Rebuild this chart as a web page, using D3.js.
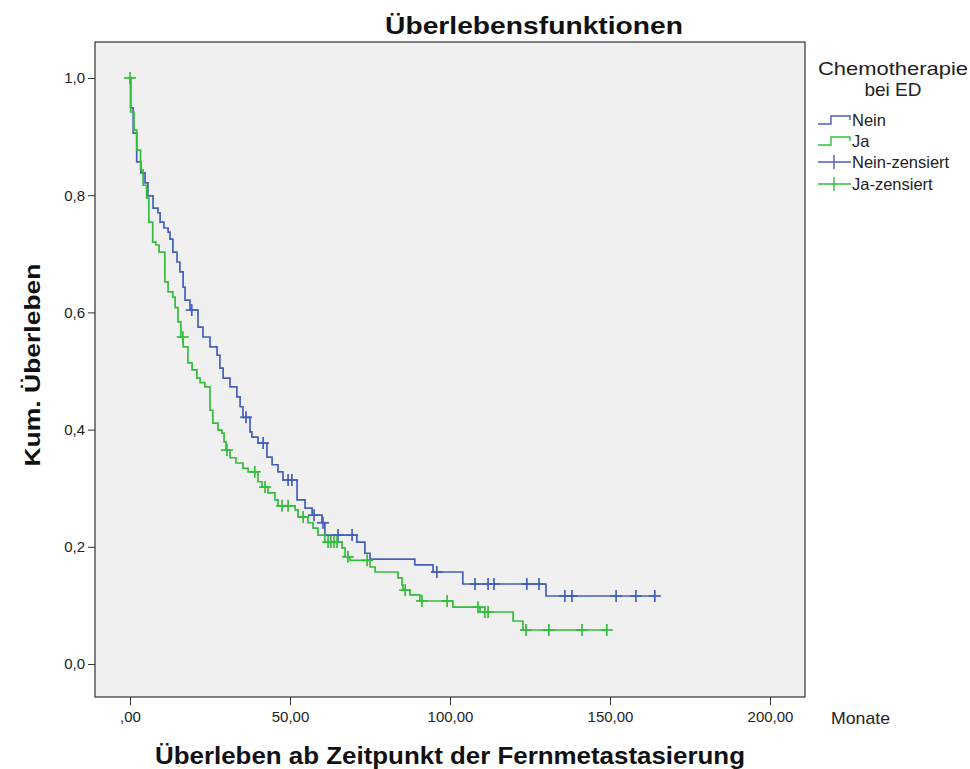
<!DOCTYPE html>
<html><head><meta charset="utf-8">
<script src="https://cdn.jsdelivr.net/npm/d3@7"></script>
<style>
body{margin:0;background:#fff;}
svg{display:block;}
text{font-family:"Liberation Sans",Arial,sans-serif;}
</style></head>
<body>
<script>
// ---- Data ----
const groups = ["Nein", "Ja"];
const neinEvents = [[0.2,0.949],[1.0,0.906],[2.1,0.857],[3.4,0.838],[4.7,0.821],[5.6,0.799],[7.2,0.778],[8.75,0.770],[9.4,0.754],[10.6,0.744],[11.9,0.737],[12.5,0.725],[13.4,0.703],[14.7,0.686],[15.6,0.669],[16.6,0.643],[17.2,0.621],[18.75,0.604],[21.25,0.575],[22.8,0.558],[25.0,0.541],[27.2,0.527],[28.1,0.505],[29.1,0.488],[31.25,0.473],[33.4,0.456],[34.4,0.439],[35.3,0.421],[37.5,0.396],[38.1,0.387],[40,0.377],[42.8,0.353],[44.4,0.340],[46.25,0.328],[47.8,0.314],[52.2,0.280],[54.7,0.266],[56.9,0.254],[60,0.241],[60.9,0.220],[70.9,0.208],[73.4,0.189],[75,0.179],[89,0.169],[94.7,0.157],[104,0.1365],[130,0.116]];
const neinCensored = [19.3,36.25,41.6,49.4,50.6,57.5,60.3,65,69.4,95.9,107.8,111.9,113.75,124,127.8,135.9,138.1,151.9,158.1,164];
const neinEnd = 164;
const jaEvents = [[0.2,0.942],[1.25,0.911],[2.1,0.877],[3.3,0.843],[4.1,0.817],[5.2,0.795],[5.9,0.754],[7.1,0.720],[8.1,0.715],[9.1,0.703],[10.9,0.652],[11.9,0.635],[13.4,0.626],[14.1,0.608],[15,0.584],[15.9,0.558],[16.6,0.541],[18.1,0.514],[19.4,0.502],[20.9,0.488],[21.9,0.480],[23.4,0.473],[25,0.433],[25.9,0.411],[27.5,0.399],[28.75,0.394],[29.4,0.379],[30,0.365],[31.25,0.352],[33.1,0.343],[35.3,0.334],[36.9,0.328],[40,0.311],[41.25,0.302],[43.1,0.292],[45.3,0.280],[46.25,0.270],[51.6,0.263],[52.5,0.251],[55.6,0.241],[57.2,0.232],[58.75,0.220],[60.9,0.208],[66.25,0.198],[67.2,0.183],[68.75,0.177],[75,0.1655],[76.6,0.157],[83.75,0.147],[85,0.135],[85.3,0.126],[87.5,0.118],[90.6,0.1075],[100.9,0.097],[109.4,0.0887],[119.7,0.0734],[122.8,0.058]];
const jaCensored = [0,16.5,30.3,39,42.2,47.5,49.4,54.1,61.9,62.8,63.75,64.7,68.1,74.1,86,91.25,99.1,108.75,110.9,111.9,123.75,130.9,141.25,149];
const jaEnd = 149;
const xTicks = [0, 50, 100, 150, 200];
const xTickLabels = [",00", "50,00", "100,00", "150,00", "200,00"];
const yTicks = [0, 0.2, 0.4, 0.6, 0.8, 1.0];
const yTickLabels = ["0,0", "0,2", "0,4", "0,6", "0,8", "1,0"];
const legendLabels = ["Nein", "Ja", "Nein-zensiert", "Ja-zensiert"];
const colors = {Nein: "#4460bc", Ja: "#35bd3c"};

// ---- Layout ----
const W = 970, H = 769;
const frame = {x0: 95, y0: 42, x1: 805, y1: 697};
const x = d3.scaleLinear().domain([0, 200]).range([130, 770]);
const y = d3.scaleLinear().domain([0, 1]).range([664, 78]);

const svg = d3.select("body").append("svg").attr("width", W).attr("height", H);

svg.append("rect").attr("x", frame.x0).attr("y", frame.y0)
  .attr("width", frame.x1 - frame.x0).attr("height", frame.y1 - frame.y0)
  .attr("fill", "#f0f0f0").attr("stroke", "#333").attr("stroke-width", 1.2);

// Axes
const yAxis = d3.axisLeft(y).tickValues(yTicks).tickSize(7).tickPadding(3)
  .tickFormat((d, i) => yTickLabels[i]);
const gy = svg.append("g").attr("transform", `translate(${frame.x0},0)`).call(yAxis);
gy.select(".domain").remove();
gy.selectAll("line").attr("stroke", "#333");
gy.selectAll("text").attr("font-size", 15).attr("fill", "#222")
  .attr("font-family", "Liberation Sans, Arial, sans-serif");

const xAxis = d3.axisBottom(x).tickValues(xTicks).tickSize(8).tickPadding(6)
  .tickFormat((d, i) => xTickLabels[i]);
const gx = svg.append("g").attr("transform", `translate(0,${frame.y1})`).call(xAxis);
gx.select(".domain").remove();
gx.selectAll("line").attr("stroke", "#333");
gx.selectAll("text").attr("font-size", 15).attr("fill", "#222")
  .attr("font-family", "Liberation Sans, Arial, sans-serif");

svg.append("text").attr("x", 831).attr("y", 724).attr("font-size", 17).attr("fill", "#222")
  .attr("textLength", 59).attr("lengthAdjust", "spacingAndGlyphs")
  .text("Monate");

// Titles
svg.append("text").attr("x", 534).attr("y", 34).attr("text-anchor", "middle")
  .attr("font-size", 24).attr("font-weight", "bold").attr("fill", "#111")
  .attr("textLength", 298).attr("lengthAdjust", "spacingAndGlyphs")
  .text("Überlebensfunktionen");
svg.append("text").attr("transform", "translate(40,365) rotate(-90)").attr("text-anchor", "middle")
  .attr("font-size", 22).attr("font-weight", "bold").attr("fill", "#111")
  .attr("textLength", 203).attr("lengthAdjust", "spacingAndGlyphs")
  .text("Kum. Überleben");
svg.append("text").attr("x", 450).attr("y", 764).attr("text-anchor", "middle")
  .attr("font-size", 24).attr("font-weight", "bold").attr("fill", "#111")
  .attr("textLength", 590).attr("lengthAdjust", "spacingAndGlyphs")
  .text("Überleben ab Zeitpunkt der Fernmetastasierung");

// Curves
function stepValue(events, t) {
  let s = 1;
  for (const e of events) { if (e[0] <= t) s = e[1]; }
  return s;
}
const line = d3.line().x(d => x(d[0])).y(d => y(d[1])).curve(d3.curveStepAfter);
const series = [
  {name: "Nein", events: neinEvents, cens: neinCensored, end: neinEnd},
  {name: "Ja", events: jaEvents, cens: jaCensored, end: jaEnd}
];
series.forEach(s => {
  const pts = [[0, 1], ...s.events, [s.end, s.events[s.events.length - 1][1]]];
  svg.append("path").attr("d", line(pts)).attr("fill", "none")
    .attr("stroke", colors[s.name]).attr("stroke-width", 1.7);
  const g = svg.append("g").attr("stroke", colors[s.name]).attr("stroke-width", 1.7);
  s.cens.forEach(t => {
    const cx = x(t), cy = y(stepValue(s.events, t));
    g.append("line").attr("x1", cx).attr("x2", cx).attr("y1", cy - 6).attr("y2", cy + 6);
    g.append("line").attr("x1", cx - 6).attr("x2", cx + 6).attr("y1", cy).attr("y2", cy);
  });
});

// Legend
svg.append("text").attr("x", 893).attr("y", 75).attr("text-anchor", "middle")
  .attr("font-size", 19).attr("fill", "#222")
  .attr("textLength", 150).attr("lengthAdjust", "spacingAndGlyphs").text("Chemotherapie");
svg.append("text").attr("x", 893).attr("y", 96).attr("text-anchor", "middle")
  .attr("font-size", 19).attr("fill", "#222").text("bei ED");
const legY = [120, 141, 162, 184];
legendLabels.forEach((lab, i) => {
  const cy = legY[i];
  const col = colors[i % 2 === 0 ? "Nein" : "Ja"];
  const g = svg.append("g").attr("stroke", col).attr("stroke-width", 1.4).attr("fill", "none");
  if (i < 2) {
    g.append("path").attr("d", `M818,${cy + 4}H831V${cy - 4}H850V${cy}`);
  } else {
    g.append("line").attr("x1", 818).attr("x2", 851).attr("y1", cy).attr("y2", cy);
    g.append("line").attr("x1", 834).attr("x2", 834).attr("y1", cy - 7).attr("y2", cy + 7);
  }
  svg.append("text").attr("x", 852).attr("y", cy + 6).attr("font-size", 16.5).attr("fill", "#222").text(lab);
});
</script>
</body></html>
